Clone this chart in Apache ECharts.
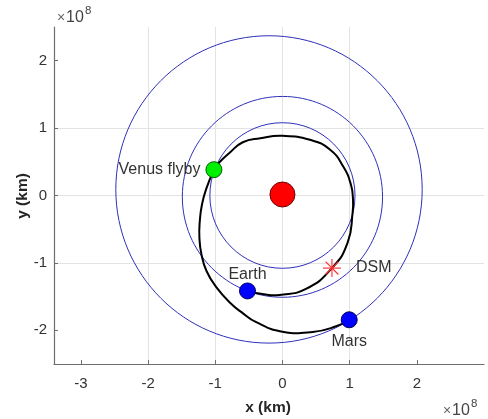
<!DOCTYPE html>
<html>
<head>
<meta charset="utf-8">
<script src="https://cdn.jsdelivr.net/npm/echarts@6/dist/echarts.min.js"></script>
<style>
html,body{margin:0;padding:0;background:#fff;}
#chart{width:488px;height:419px;}
</style>
</head>
<body>
<div id="chart"></div>
<script>
// values in units of 1e8 km
const xTicks = [-3, -2, -1, 0, 1, 2];
const yTicks = [-2, -1, 0, 1, 2];

// orbits: centre x, centre y, radius
const orbitCx = [0, 0, -0.2];
const orbitCy = [0, -0.02, 0.09];
const orbitR  = [1.08, 1.49, 2.28];

// trajectory leg 1: Earth -> DSM -> Venus flyby
const leg1X = [-0.52, -0.25, -0.045, 0.35, 0.737, 0.97, 1.045, 1.05, 1.02, 0.905, 0.71, 0.41, 0.0, -0.33, -0.59, -0.79, -0.93, -1.02];
const leg1Y = [-1.416, -1.47, -1.475, -1.386, -1.077, -0.70, -0.25, -0.06, 0.16, 0.43, 0.68, 0.826, 0.885, 0.85, 0.79, 0.63, 0.50, 0.38];
// trajectory leg 2: Venus flyby -> Mars
const leg2X = [-1.02, -1.13, -1.197, -1.23, -1.236, -1.206, -1.13, -0.985, -0.76, -0.61, -0.39, 0.0, 0.45, 0.80, 0.994];
const leg2Y = [0.38, 0.11, -0.13, -0.38, -0.62, -0.87, -1.12, -1.36, -1.61, -1.73, -1.88, -2.02, -2.025, -1.94, -1.844];

// bodies
const sunPos   = [0, 0.015];
const earthPos = [-0.52, -1.416];
const marsPos  = [0.994, -1.844];
const venusPos = [-1.02, 0.383];
const dsmPos   = [0.737, -1.077];

const chart = echarts.init(document.getElementById('chart'));
const txt = '#333333';
const font = 'Liberation Sans, Arial, Helvetica, sans-serif';

function zip(a, b) { return a.map((v, i) => [v, b[i]]); }
const legs = [zip(leg1X, leg1Y), zip(leg2X, leg2Y)];

const option = {
  animation: false,
  grid: { left: 54, right: 4, top: 27, bottom: 55, containLabel: false, outerBoundsMode: 'none' },
  xAxis: {
    type: 'value', min: -3.4, max: 3,
    axisLine: { show: true, onZero: false, lineStyle: { color: '#6e6e6e', width: 1.2 } },
    axisTick: { show: true, inside: true, length: 4, lineStyle: { color: '#6e6e6e' }, customValues: xTicks },
    axisLabel: { color: txt, fontSize: 15, fontFamily: font, margin: 12, customValues: xTicks },
    splitLine: { show: true, showMinLine: false, showMaxLine: false, lineStyle: { color: '#e3e3e3', width: 1 } }
  },
  yAxis: {
    type: 'value', min: -2.5, max: 2.5,
    axisLine: { show: true, onZero: false, lineStyle: { color: '#6e6e6e', width: 1.2 } },
    axisTick: { show: true, inside: true, length: 4, lineStyle: { color: '#6e6e6e' }, customValues: yTicks },
    axisLabel: { color: txt, fontSize: 15, fontFamily: font, margin: 7, customValues: yTicks },
    splitLine: { show: true, showMinLine: false, showMaxLine: false, lineStyle: { color: '#e3e3e3', width: 1 } }
  },
  series: [
    {
      type: 'custom',
      coordinateSystem: 'cartesian2d',
      encode: { x: 0, y: 1 },
      data: orbitR.map((r, i) => [orbitCx[i], orbitCy[i], r]),
      renderItem: function (params, api) {
        const c = api.coord([api.value(0), api.value(1)]);
        const s = api.size([api.value(2), api.value(2)]);
        return {
          type: 'ellipse',
          shape: { cx: c[0], cy: c[1], rx: s[0], ry: s[1] },
          style: { fill: 'none', stroke: '#2f2fb8', lineWidth: 1 }
        };
      },
      z: 2
    },
    {
      type: 'custom',
      coordinateSystem: 'cartesian2d',
      encode: { x: 0, y: 1 },
      data: legs.map(l => [l[0][0], l[0][1]]),
      renderItem: function (params, api) {
        const pts = legs[params.dataIndex].map(p => api.coord(p));
        return {
          type: 'polyline',
          shape: { points: pts, smooth: 0.5 },
          style: { fill: 'none', stroke: '#000', lineWidth: 2, lineJoin: 'round', lineCap: 'round' }
        };
      },
      z: 3
    },
    {
      type: 'scatter', data: [sunPos], symbolSize: 25,
      itemStyle: { color: '#ff0000', borderColor: '#6a0000', borderWidth: 1, opacity: 1 }, z: 4
    },
    {
      type: 'scatter', data: [earthPos], symbolSize: 16,
      itemStyle: { color: '#0000ff', borderColor: '#00005a', borderWidth: 1, opacity: 1 },
      label: { show: true, position: 'top', distance: 0, formatter: 'Earth', color: txt, fontSize: 16, fontFamily: font },
      z: 4
    },
    {
      type: 'scatter', data: [marsPos], symbolSize: 16,
      itemStyle: { color: '#0000ff', borderColor: '#00005a', borderWidth: 1, opacity: 1 },
      label: { show: true, position: 'bottom', distance: 5, formatter: 'Mars', color: txt, fontSize: 16, fontFamily: font },
      z: 4
    },
    {
      type: 'scatter', data: [venusPos], symbolSize: 16,
      itemStyle: { color: '#00ee00', borderColor: '#005a00', borderWidth: 1, opacity: 1 },
      label: { show: true, position: 'left', distance: 5, formatter: 'Venus flyby', color: txt, fontSize: 16, fontFamily: font },
      z: 4
    },
    {
      type: 'custom',
      coordinateSystem: 'cartesian2d',
      encode: { x: 0, y: 1 },
      data: [dsmPos],
      renderItem: function (params, api) {
        const c = api.coord([api.value(0), api.value(1)]);
        const a = 9, d = 6.4;
        const st = { stroke: '#ff2a2a', lineWidth: 1.1 };
        return {
          type: 'group',
          children: [
            { type: 'line', shape: { x1: c[0] - a, y1: c[1], x2: c[0] + a, y2: c[1] }, style: st },
            { type: 'line', shape: { x1: c[0], y1: c[1] - a, x2: c[0], y2: c[1] + a }, style: st },
            { type: 'line', shape: { x1: c[0] - d, y1: c[1] - d, x2: c[0] + d, y2: c[1] + d }, style: st },
            { type: 'line', shape: { x1: c[0] - d, y1: c[1] + d, x2: c[0] + d, y2: c[1] - d }, style: st },
            { type: 'text', x: c[0] + 24, y: c[1], style: { text: 'DSM', fill: txt, fontSize: 16, fontFamily: font, textAlign: 'left', textVerticalAlign: 'middle' } }
          ]
        };
      },
      z: 5
    }
  ],
  graphic: [
    { type: 'text', x: 268, y: 408, style: { text: 'x (km)', fill: '#262626', font: 'bold 15.5px ' + font, textAlign: 'center', textVerticalAlign: 'middle' } },
    { type: 'text', x: 23, y: 196, rotation: Math.PI / 2, style: { text: 'y (km)', fill: '#262626', font: 'bold 15.5px ' + font, textAlign: 'center', textVerticalAlign: 'middle' } },
    { type: 'text', x: 57, y: 18, style: { text: '×', fill: '#666', font: '14px ' + font, textAlign: 'left', textVerticalAlign: 'middle' } },
    { type: 'text', x: 66, y: 18, style: { text: '10', fill: '#444', font: '16px ' + font, textAlign: 'left', textVerticalAlign: 'middle' } },
    { type: 'text', x: 85, y: 11, style: { text: '8', fill: '#444', font: '11.5px ' + font, textAlign: 'left', textVerticalAlign: 'middle' } },
    { type: 'text', x: 443, y: 411, style: { text: '×', fill: '#666', font: '14px ' + font, textAlign: 'left', textVerticalAlign: 'middle' } },
    { type: 'text', x: 452, y: 411, style: { text: '10', fill: '#444', font: '16px ' + font, textAlign: 'left', textVerticalAlign: 'middle' } },
    { type: 'text', x: 471, y: 404, style: { text: '8', fill: '#444', font: '11.5px ' + font, textAlign: 'left', textVerticalAlign: 'middle' } }
  ]
};
chart.setOption(option);
</script>
</body>
</html>
